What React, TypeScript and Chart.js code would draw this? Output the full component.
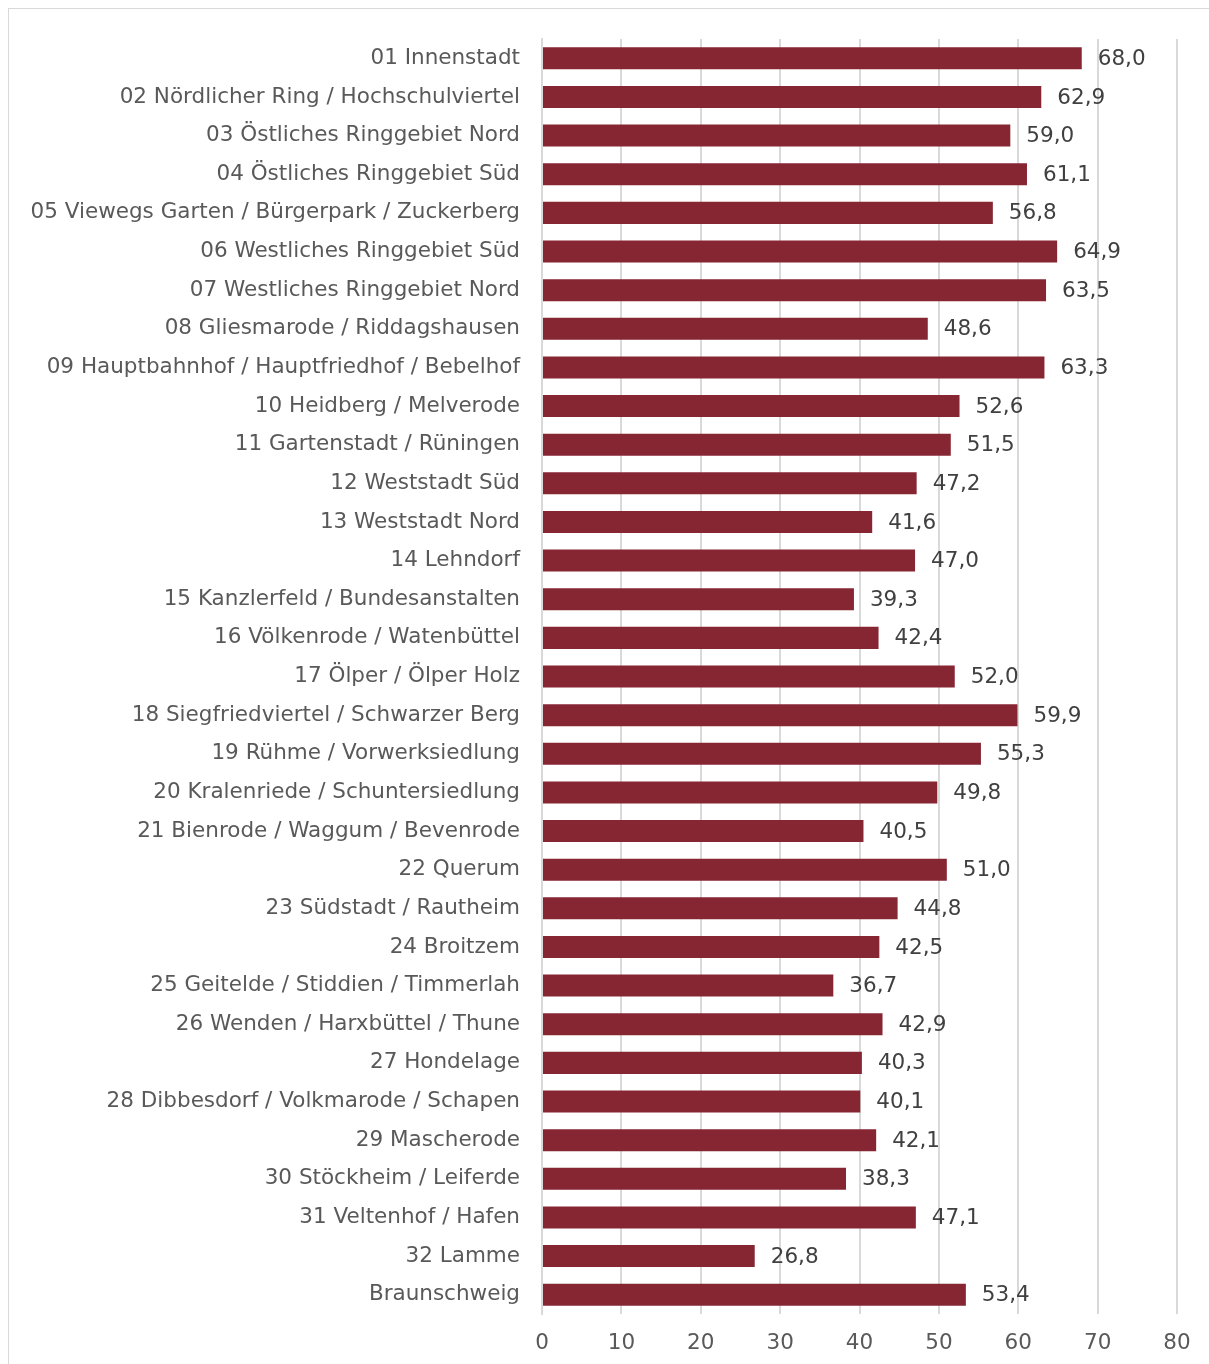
import React, { useEffect, useRef } from "react";
import { Chart, registerables } from "chart.js";

Chart.register(...registerables);

const categories: string[] = [
  "01 Innenstadt",
  "02 Nördlicher Ring / Hochschulviertel",
  "03 Östliches Ringgebiet Nord",
  "04 Östliches Ringgebiet Süd",
  "05 Viewegs Garten / Bürgerpark / Zuckerberg",
  "06 Westliches Ringgebiet Süd",
  "07 Westliches Ringgebiet Nord",
  "08 Gliesmarode / Riddagshausen",
  "09 Hauptbahnhof / Hauptfriedhof / Bebelhof",
  "10 Heidberg / Melverode",
  "11 Gartenstadt / Rüningen",
  "12 Weststadt Süd",
  "13 Weststadt Nord",
  "14 Lehndorf",
  "15 Kanzlerfeld / Bundesanstalten",
  "16 Völkenrode / Watenbüttel",
  "17 Ölper / Ölper Holz",
  "18 Siegfriedviertel / Schwarzer Berg",
  "19 Rühme / Vorwerksiedlung",
  "20 Kralenriede / Schuntersiedlung",
  "21 Bienrode / Waggum / Bevenrode",
  "22 Querum",
  "23 Südstadt / Rautheim",
  "24 Broitzem",
  "25 Geitelde / Stiddien / Timmerlah",
  "26 Wenden / Harxbüttel / Thune",
  "27 Hondelage",
  "28 Dibbesdorf / Volkmarode / Schapen",
  "29 Mascherode",
  "30 Stöckheim / Leiferde",
  "31 Veltenhof / Hafen",
  "32 Lamme",
  "Braunschweig",
];

const values: number[] = [
  68.0, 62.9, 59.0, 61.1, 56.8, 64.9, 63.5, 48.6, 63.3, 52.6, 51.5, 47.2, 41.6,
  47.0, 39.3, 42.4, 52.0, 59.9, 55.3, 49.8, 40.5, 51.0, 44.8, 42.5, 36.7, 42.9,
  40.3, 40.1, 42.1, 38.3, 47.1, 26.8, 53.4,
];

const xTicks: number[] = [0, 10, 20, 30, 40, 50, 60, 70, 80];

const FONT = "'DejaVu Sans', 'Open Sans', sans-serif";
const FONT_SIZE = 21.5;

const valueLabelPlugin = {
  id: "valueLabels",
  afterDatasetsDraw(chart: any) {
    const ctx = chart.ctx;
    const meta = chart.getDatasetMeta(0);
    ctx.save();
    ctx.font = `${FONT_SIZE}px ${FONT}`;
    ctx.fillStyle = "#404040";
    ctx.textAlign = "left";
    ctx.textBaseline = "middle";
    meta.data.forEach((bar: any, i: number) => {
      const txt = values[i].toFixed(1).replace(".", ",");
      ctx.fillText(txt, bar.x + 16, bar.y + 1);
    });
    ctx.restore();
  },
};

export default function App() {
  const ref = useRef<HTMLCanvasElement | null>(null);

  useEffect(() => {
    const prevMargin = document.body.style.margin;
    document.body.style.margin = "8px 0 0 8px";
    if (!ref.current) return;
    const chart = new Chart(ref.current, {
      type: "bar",
      data: {
        labels: categories,
        datasets: [
          {
            data: values,
            backgroundColor: "#862633",
            borderWidth: 0,
            barPercentage: 0.57,
            categoryPercentage: 1,
          },
        ],
      },
      options: {
        indexAxis: "y",
        animation: false,
        responsive: false,
        maintainAspectRatio: false,
        layout: { padding: { top: 30, right: 32, left: 0, bottom: 0 } },
        plugins: {
          legend: { display: false },
          tooltip: { enabled: false },
        },
        scales: {
          x: {
            min: 0,
            max: 80,
            afterBuildTicks: (scale: any) => {
              scale.ticks = xTicks.map((v) => ({ value: v }));
            },
            afterFit: (scale: any) => {
              scale.height = 50;
            },
            grid: {
              color: "#d9d9d9",
              lineWidth: 2,
              drawTicks: false,
            },
            border: { display: false },
            ticks: {
              padding: 17,
              color: "#595959",
              font: { family: FONT, size: FONT_SIZE },
            },
          },
          y: {
            afterFit: (scale: any) => {
              scale.width = 533;
              scale.paddingTop = 0;
              scale.paddingBottom = 0;
            },
            grid: { display: false, drawTicks: false },
            border: { display: true, color: "#d9d9d9", width: 2 },
            ticks: {
              padding: 22,
              color: "#595959",
              font: { family: FONT, size: FONT_SIZE },
              autoSkip: false,
            },
          },
        },
      },
      plugins: [valueLabelPlugin],
    });
    return () => {
      chart.destroy();
      document.body.style.margin = prevMargin;
    };
  }, []);

  return (
    <div
      style={{
        borderLeft: "1px solid #d9d9d9",
        borderTop: "1px solid #d9d9d9",
        height: 1355,
        overflow: "hidden",
      }}
    >
      <canvas
        ref={ref}
        width={1200}
        height={1355}
        style={{ display: "block", width: 1200, height: 1355 }}
      />
    </div>
  );
}
